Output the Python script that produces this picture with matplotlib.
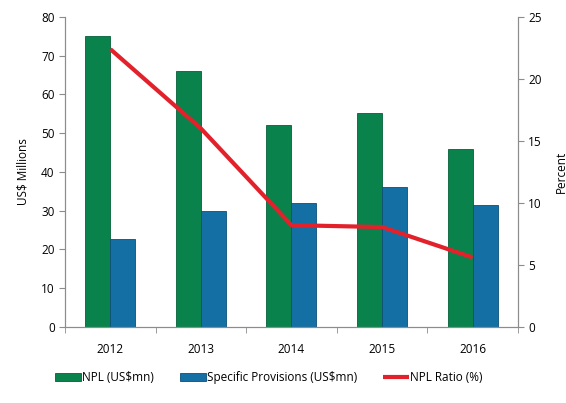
import numpy as np
import matplotlib.pyplot as plt

plt.rcParams['font.family'] = ['Open Sans', 'DejaVu Sans']

years = ["2012", "2013", "2014", "2015", "2016"]
npl = [75.0, 66.0, 52.0, 55.3, 46.0]
provisions = [22.7, 30.0, 32.0, 36.1, 31.5]
npl_ratio = [22.4, 16.0, 8.2, 8.05, 5.6]

GREEN = "#0a824c"
BLUE = "#146fa4"
RED = "#e3212b"
GREY = "#8c8c8c"

fig = plt.figure(figsize=(5.66, 4.03), dpi=100)
ax = fig.add_axes([0.115, 0.189, 0.8, 0.769])
ax2 = ax.twinx()

x = np.arange(len(years))
w = 0.276
ax.bar(x - w / 2, npl, w, color=GREEN, edgecolor="#06603a", linewidth=0.6,
       label="NPL (US$mn)", zorder=2)
ax.bar(x + w / 2, provisions, w, color=BLUE, edgecolor="#0c4f78", linewidth=0.6,
       label="Specific Provisions (US$mn)", zorder=2)
ax2.plot(x, npl_ratio, color=RED, linewidth=3, label="NPL Ratio (%)",
         solid_capstyle="butt")

ax.set_xlim(-0.5, len(years) - 0.5)
ax.set_ylim(0, 80)
ax2.set_ylim(0, 25)
ax.set_yticks(range(0, 81, 10))
ax2.set_yticks(range(0, 26, 5))

ax.set_xticks(x)
ax.set_xticklabels(years)
ax.set_xticks(np.arange(-0.5, len(years), 1), minor=True)
ax.tick_params(axis="x", which="major", length=0, pad=12, labelsize=8.5)
ax.tick_params(axis="x", which="minor", length=4, color=GREY, direction="out")
ax.tick_params(axis="y", length=4, color=GREY, labelsize=8.5)
ax2.tick_params(axis="y", length=4, color=GREY, labelsize=8.5)

for a in (ax, ax2):
    a.spines["top"].set_visible(False)
    for s in ("left", "right", "bottom"):
        a.spines[s].set_color(GREY)
        a.spines[s].set_linewidth(0.8)

ax.set_ylabel("US$ Millions", fontsize=8.5, labelpad=8)
ax2.set_ylabel("Percent", fontsize=8.5, labelpad=9)

h1, l1 = ax.get_legend_handles_labels()
h2, l2 = ax2.get_legend_handles_labels()
fig.legend(h1 + h2, l1 + l2, loc="center", bbox_to_anchor=(0.475, 0.063),
           ncol=3, frameon=False, fontsize=8.5, handlelength=2.2,
           handletextpad=0.1, columnspacing=2.2, handleheight=0.6)

fig.savefig("out.png", dpi=100)
